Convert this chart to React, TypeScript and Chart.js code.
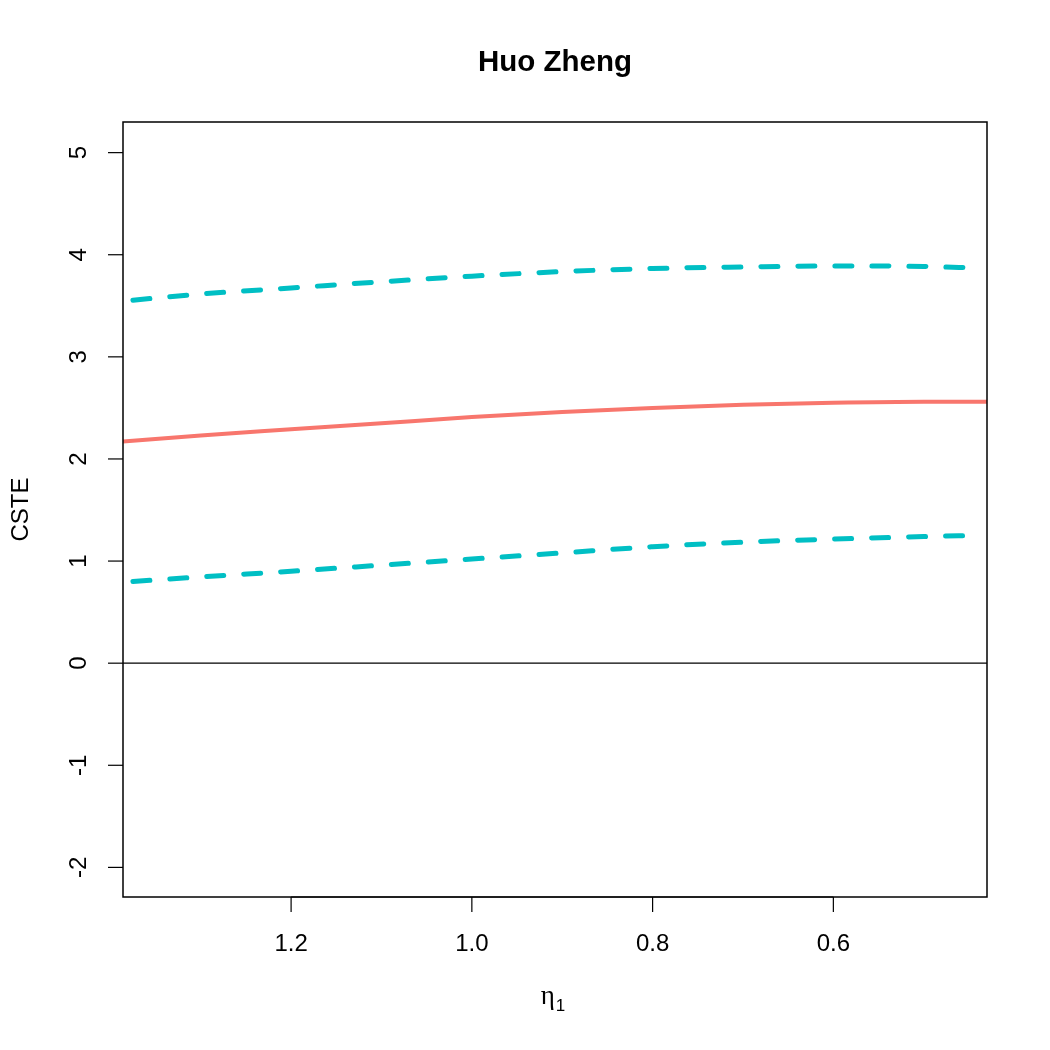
import React, { useEffect, useRef } from "react";
import { Chart, registerables } from "chart.js";

Chart.register(...registerables);

const titleText = "Huo Zheng";
const yAxisTitle = "CSTE";
const xTickValues = [1.2, 1.0, 0.8, 0.6];
const yTickValues = [-2, -1, 0, 1, 2, 3, 4, 5];

const estX = [1.386, 1.3, 1.2, 1.1, 1.0, 0.9, 0.8, 0.7, 0.6, 0.5, 0.43];
const estY = [2.17, 2.23, 2.29, 2.35, 2.41, 2.46, 2.5, 2.53, 2.55, 2.56, 2.56];

const bandX = [1.375, 1.3, 1.2, 1.1, 1.0, 0.9, 0.8, 0.7, 0.6, 0.5, 0.443];
const upperY = [3.555, 3.615, 3.675, 3.735, 3.79, 3.835, 3.865, 3.88, 3.89, 3.885, 3.87];
const lowerY = [0.8, 0.845, 0.9, 0.96, 1.02, 1.08, 1.14, 1.185, 1.215, 1.24, 1.25];

const X_MIN = 0.43;
const X_MAX = 1.386;
const Y_MIN = -2.29;
const Y_MAX = 5.3;

const FONT = "'Liberation Sans', Arial, Helvetica, sans-serif";

const rAxesPlugin = {
  id: "rAxes",
  afterDatasetsDraw(chart: any) {
    const { ctx, chartArea, scales } = chart;
    const xs = scales.x;
    const ys = scales.y;
    const { left, right, top, bottom } = chartArea;
    ctx.save();
    ctx.strokeStyle = "#000";
    ctx.fillStyle = "#000";

    // zero line
    ctx.lineWidth = 1.3;
    const y0 = ys.getPixelForValue(0);
    ctx.beginPath();
    ctx.moveTo(left, y0);
    ctx.lineTo(right, y0);
    ctx.stroke();

    // box
    ctx.lineWidth = 1.5;
    ctx.strokeRect(left, top, right - left, bottom - top);

    // x ticks
    ctx.lineWidth = 1.2;
    ctx.font = `24px ${FONT}`;
    ctx.textAlign = "center";
    ctx.textBaseline = "alphabetic";
    xTickValues.forEach((v) => {
      const px = xs.getPixelForValue(v);
      ctx.beginPath();
      ctx.moveTo(px, bottom);
      ctx.lineTo(px, bottom + 15);
      ctx.stroke();
      ctx.fillText(v.toFixed(1), px, 951);
    });
    ctx.beginPath();
    ctx.moveTo(xs.getPixelForValue(xTickValues[0]), bottom);
    ctx.lineTo(xs.getPixelForValue(xTickValues[xTickValues.length - 1]), bottom);
    ctx.stroke();

    // y ticks
    yTickValues.forEach((v) => {
      const py = ys.getPixelForValue(v);
      ctx.beginPath();
      ctx.moveTo(left, py);
      ctx.lineTo(left - 15, py);
      ctx.stroke();
      ctx.save();
      ctx.translate(86, py);
      ctx.rotate(-Math.PI / 2);
      ctx.textAlign = "center";
      ctx.textBaseline = "alphabetic";
      ctx.fillText(String(v), 0, 0);
      ctx.restore();
    });

    // y axis title
    ctx.save();
    ctx.translate(28, (top + bottom) / 2);
    ctx.rotate(-Math.PI / 2);
    ctx.textAlign = "center";
    ctx.fillText(yAxisTitle, 0, 0);
    ctx.restore();

    // x axis title: eta subscript 1
    const cx = (left + right) / 2 - 2;
    const etaFont = `27px 'Liberation Serif', 'DejaVu Serif', serif`;
    const subFont = `17px ${FONT}`;
    ctx.font = etaFont;
    const etaW = ctx.measureText("η").width;
    ctx.font = subFont;
    const oneW = ctx.measureText("1").width;
    const total = etaW + oneW + 1;
    const startX = cx - total / 2;
    ctx.textAlign = "left";
    ctx.font = etaFont;
    ctx.fillText("η", startX, 1004);
    ctx.font = subFont;
    ctx.fillText("1", startX + etaW + 1, 1011);

    // title
    ctx.font = `bold 29.5px ${FONT}`;
    ctx.textAlign = "center";
    ctx.fillText(titleText, (left + right) / 2, 71);

    ctx.restore();
  },
};

export default function App() {
  const canvasRef = useRef<HTMLCanvasElement | null>(null);

  useEffect(() => {
    const canvas = canvasRef.current;
    if (!canvas) return;
    const chart = new Chart(canvas, {
      type: "line",
      data: {
        datasets: [
          {
            label: "upper",
            data: bandX.map((x, i) => ({ x, y: upperY[i] })),
            borderColor: "#00BFC4",
            borderWidth: 5,
            borderDash: [17, 20],
            borderCapStyle: "round",
            pointRadius: 0,
            cubicInterpolationMode: "monotone",
            fill: false,
          },
          {
            label: "lower",
            data: bandX.map((x, i) => ({ x, y: lowerY[i] })),
            borderColor: "#00BFC4",
            borderWidth: 5,
            borderDash: [17, 20],
            borderCapStyle: "round",
            pointRadius: 0,
            cubicInterpolationMode: "monotone",
            fill: false,
          },
          {
            label: "estimate",
            data: estX.map((x, i) => ({ x, y: estY[i] })),
            borderColor: "#F8766D",
            borderWidth: 4,
            pointRadius: 0,
            cubicInterpolationMode: "monotone",
            fill: false,
          },
        ],
      },
      options: {
        animation: false,
        responsive: false,
        devicePixelRatio: 1,
        layout: { padding: { left: 123, right: 63, top: 122, bottom: 153 } },
        plugins: {
          legend: { display: false },
          tooltip: { enabled: false },
          title: { display: false },
        },
        scales: {
          x: {
            type: "linear",
            reverse: true,
            min: X_MIN,
            max: X_MAX,
            display: false,
          },
          y: {
            type: "linear",
            min: Y_MIN,
            max: Y_MAX,
            display: false,
          },
        },
      },
      plugins: [rAxesPlugin],
    });
    return () => chart.destroy();
  }, []);

  return (
    <div style={{ position: "absolute", left: 0, top: 0, width: 1050, height: 1050, background: "#fff" }}>
      <canvas ref={canvasRef} width={1050} height={1050} style={{ width: 1050, height: 1050, display: "block" }} />
    </div>
  );
}
